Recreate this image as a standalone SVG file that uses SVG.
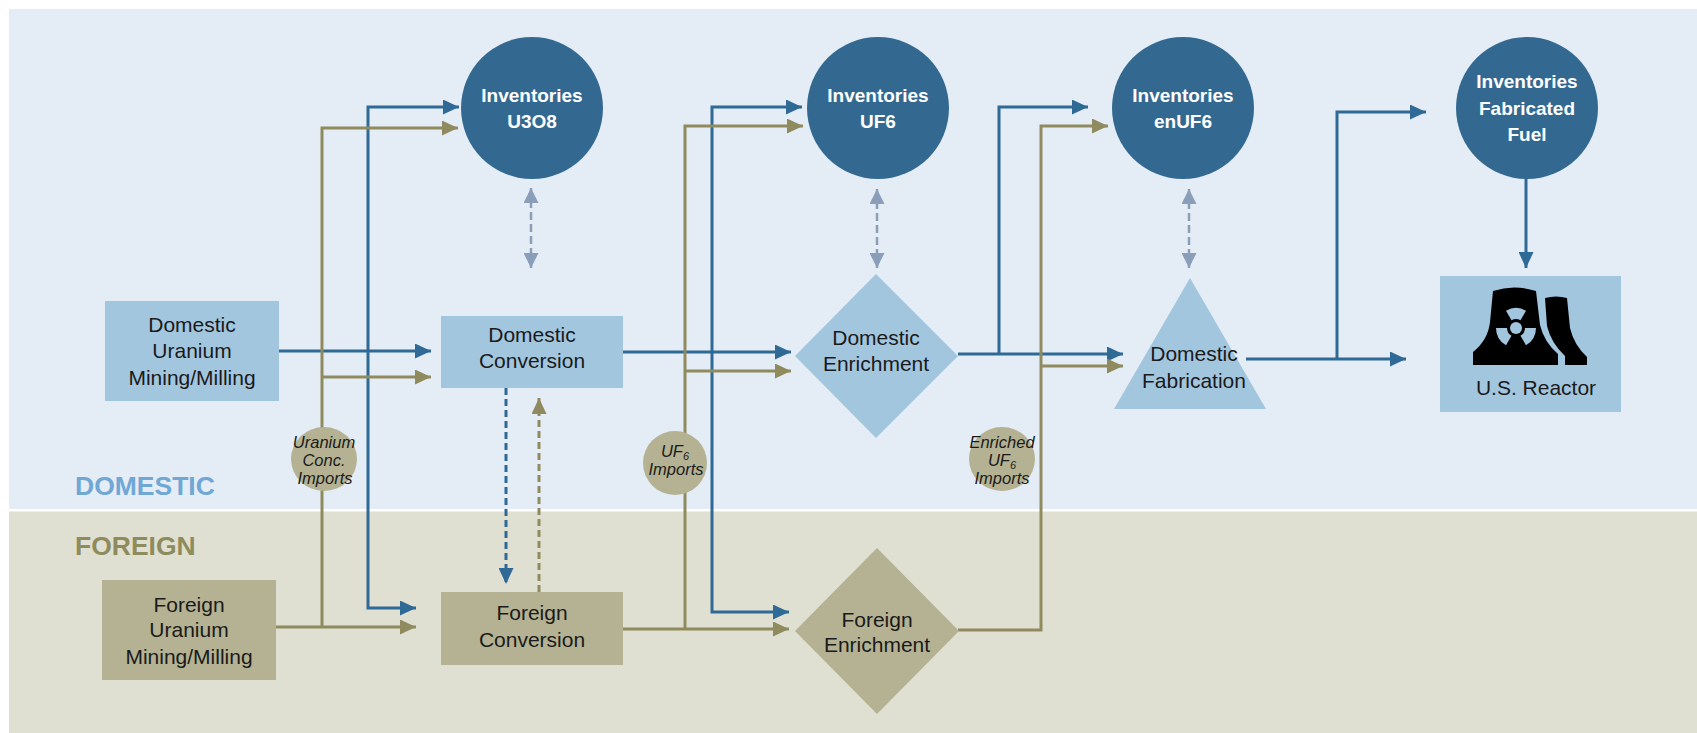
<svg xmlns="http://www.w3.org/2000/svg" width="1697" height="733" viewBox="0 0 1697 733">
<style>
.lbl{font-family:"Liberation Sans",Arial,sans-serif;font-size:21px;fill:#1a1a1a;text-anchor:middle}
.inv{font-family:"Liberation Sans",Arial,sans-serif;font-size:19px;font-weight:bold;fill:#ffffff;text-anchor:middle}
.imp{font-family:"Liberation Sans",Arial,sans-serif;font-size:16.5px;font-style:italic;fill:#1a1a1a;text-anchor:middle}
.region{font-family:"Liberation Sans",Arial,sans-serif;font-size:26.5px;font-weight:bold}
.circ{fill:#336990}
.lb{fill:#a3c6df}
.kh{fill:#b4b292}
.blue{fill:none;stroke:#2f6995;stroke-width:3}
.olive{fill:none;stroke:#8f8b5e;stroke-width:3}
.ab{marker-end:url(#arB)}
.ao{marker-end:url(#arO)}
.grey{fill:none;stroke:#8a9eb9;stroke-width:2.5;stroke-dasharray:8 4;marker-start:url(#arG);marker-end:url(#arG)}
.dash{stroke-dasharray:7 4}
</style>
<defs>
<marker id="arB" markerUnits="userSpaceOnUse" markerWidth="16" markerHeight="15" refX="16" refY="7.5" orient="auto"><path d="M0,0 L16,7.5 L0,15 Z" fill="#2f6995"/></marker>
<marker id="arO" markerUnits="userSpaceOnUse" markerWidth="16" markerHeight="15" refX="16" refY="7.5" orient="auto"><path d="M0,0 L16,7.5 L0,15 Z" fill="#8f8b5e"/></marker>
<marker id="arG" markerUnits="userSpaceOnUse" markerWidth="15" markerHeight="15" refX="15" refY="7.5" orient="auto-start-reverse"><path d="M0,0 L15,7.5 L0,15 Z" fill="#8a9eb9"/></marker>
</defs>
<rect width="1697" height="733" fill="#ffffff"/>
<g id="regions">
<rect x="9" y="9" width="1688" height="500" fill="#e4edf5"/>
<rect x="9" y="511.5" width="1688" height="222" fill="#e0e0d2"/>
<text class="region" x="75" y="495" fill="#70a7d4">DOMESTIC</text>
<text class="region" x="75" y="555" fill="#8e8b5d">FOREIGN</text>
</g>
<g id="connectors">
<path class="blue ab" d="M279,351 H431"/>
<path class="blue ab" d="M368,351 V107 H459"/>
<path class="blue ab" d="M368,351 V608 H416"/>
<path class="blue ab" d="M623,352 H791"/>
<path class="blue ab" d="M712,352 V107 H802"/>
<path class="blue ab" d="M712,352 V612 H789"/>
<path class="blue ab" d="M958,354 H1123"/>
<path class="blue ab" d="M999,354 V107 H1088"/>
<path class="blue ab" d="M1246,359 H1406"/>
<path class="blue ab" d="M1337,359 V112 H1426"/>
<path class="blue ab" d="M1526,179 V268"/>
<path class="blue ab dash" d="M506,388 V584"/>
<path class="olive ao" d="M276,627 H416"/>
<path class="olive ao" d="M322,627 V128 H458"/>
<path class="olive ao" d="M322,377 H431"/>
<path class="olive ao" d="M623,629 H789"/>
<path class="olive ao" d="M685,629 V126 H803"/>
<path class="olive ao" d="M685,371 H791"/>
<path class="olive ao" d="M958,630 H1041 V126 H1108"/>
<path class="olive ao" d="M1041,366 H1123"/>
<path class="olive ao dash" d="M539,592 V398"/>
<path class="grey" d="M531,188 V268"/>
<path class="grey" d="M877,189 V268"/>
<path class="grey" d="M1189,189 V268"/>
</g>
<g id="inv-u3o8">
<circle class="circ" cx="532" cy="108" r="71"/>
<text class="inv" x="532" y="102">Inventories</text>
<text class="inv" x="532" y="128">U3O8</text>
</g>
<g id="inv-uf6">
<circle class="circ" cx="878" cy="108" r="71"/>
<text class="inv" x="878" y="102">Inventories</text>
<text class="inv" x="878" y="128">UF6</text>
</g>
<g id="inv-enuf6">
<circle class="circ" cx="1183" cy="108" r="71"/>
<text class="inv" x="1183" y="102">Inventories</text>
<text class="inv" x="1183" y="128">enUF6</text>
</g>
<g id="inv-fuel">
<circle class="circ" cx="1527" cy="108" r="71"/>
<text class="inv" x="1527" y="88">Inventories</text>
<text class="inv" x="1527" y="115">Fabricated</text>
<text class="inv" x="1527" y="141">Fuel</text>
</g>
<g id="dom-mining">
<rect class="lb" x="105" y="301" width="174" height="100"/>
<text class="lbl" x="192" y="332">Domestic</text>
<text class="lbl" x="192" y="358">Uranium</text>
<text class="lbl" x="192" y="385">Mining/Milling</text>
</g>
<g id="dom-conversion">
<rect class="lb" x="441" y="316" width="182" height="72"/>
<text class="lbl" x="532" y="342">Domestic</text>
<text class="lbl" x="532" y="368">Conversion</text>
</g>
<g id="dom-enrichment">
<polygon class="lb" points="876,274 958,356 876,438 795,356"/>
<text class="lbl" x="876" y="345">Domestic</text>
<text class="lbl" x="876" y="371">Enrichment</text>
</g>
<g id="dom-fabrication">
<polygon class="lb" points="1190,278 1266,409 1114,409"/>
<text class="lbl" x="1194" y="361">Domestic</text>
<text class="lbl" x="1194" y="388">Fabrication</text>
</g>
<g id="us-reactor">
<rect class="lb" x="1440" y="276" width="181" height="136"/>
<path fill="#000" d="M1493,291 Q1514,284 1536,291 L1540,325 Q1544,342 1558,354 L1558,365 L1473,365 L1473,352 Q1488,340 1490,322 Z"/>
<path fill="#000" d="M1545,298 Q1556,295 1567,298 L1570,328 Q1574,345 1587,357 L1587,365 L1565,365 L1565,356 Q1551,343 1547,326 Z"/>
<circle class="lb" cx="1516" cy="328" r="6"/>
<path class="lb" d="M1511.5,320.2 L1506,310.7 A20,20 0 0 1 1526,310.7 L1520.5,320.2 A9,9 0 0 0 1511.5,320.2 Z"/>
<path class="lb" d="M1525,328 L1536,328 A20,20 0 0 1 1526,345.3 L1520.5,335.8 A9,9 0 0 0 1525,328 Z"/>
<path class="lb" d="M1511.5,335.8 L1506,345.3 A20,20 0 0 1 1496,328 L1507,328 A9,9 0 0 0 1511.5,335.8 Z"/>
<text class="lbl" x="1536" y="395">U.S. Reactor</text>
</g>
<g id="imp-uranium">
<ellipse class="kh" cx="324" cy="459" rx="33" ry="32"/>
<text class="imp" x="324" y="448">Uranium</text>
<text class="imp" x="324" y="466">Conc.</text>
<text class="imp" x="325" y="484">Imports</text>
</g>
<g id="imp-uf6">
<ellipse class="kh" cx="675" cy="463" rx="32" ry="32"/>
<text class="imp" x="675" y="457">UF<tspan font-size="11" dy="3">6</tspan></text>
<text class="imp" x="676" y="475">Imports</text>
</g>
<g id="imp-enriched">
<ellipse class="kh" cx="1002" cy="459" rx="33" ry="32"/>
<text class="imp" x="1002" y="448">Enriched</text>
<text class="imp" x="1002" y="466">UF<tspan font-size="11" dy="3">6</tspan></text>
<text class="imp" x="1002" y="484">Imports</text>
</g>
<g id="for-mining">
<rect class="kh" x="102" y="580" width="174" height="100"/>
<text class="lbl" x="189" y="612">Foreign</text>
<text class="lbl" x="189" y="637">Uranium</text>
<text class="lbl" x="189" y="664">Mining/Milling</text>
</g>
<g id="for-conversion">
<rect class="kh" x="441" y="592" width="182" height="73"/>
<text class="lbl" x="532" y="620">Foreign</text>
<text class="lbl" x="532" y="647">Conversion</text>
</g>
<g id="for-enrichment">
<polygon class="kh" points="877,548 959,631 877,714 795,631"/>
<text class="lbl" x="877" y="627">Foreign</text>
<text class="lbl" x="877" y="652">Enrichment</text>
</g>
</svg>
